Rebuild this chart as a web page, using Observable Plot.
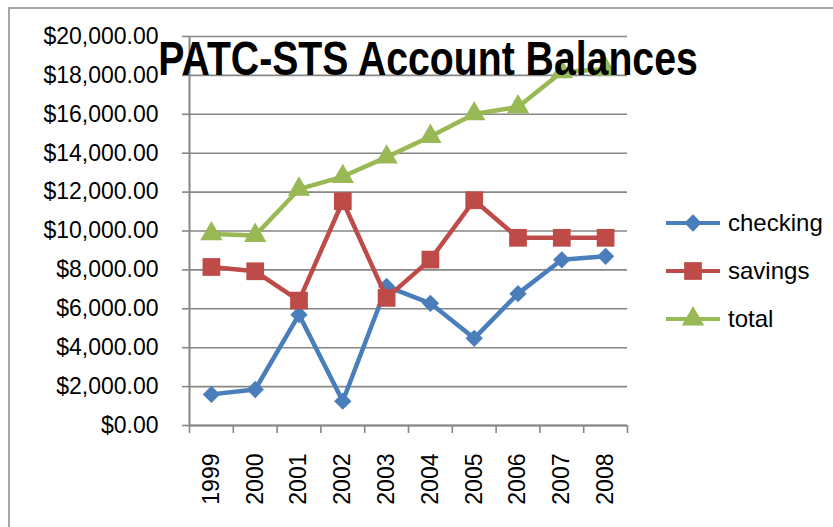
<!DOCTYPE html>
<html>
<head>
<meta charset="utf-8">
<script src="https://cdn.jsdelivr.net/npm/d3@7"></script>
<script src="https://cdn.jsdelivr.net/npm/@observablehq/plot@0.6"></script>
<style>
  html, body { margin: 0; padding: 0; background: #fff; }
  #wrap { position: relative; width: 833px; height: 527px; overflow: hidden; font-family: "Liberation Sans", Arial, sans-serif; }
  #frame { position: absolute; left: 8px; top: 7px; width: 900px; height: 600px; border-left: 2px solid #a6a6a6; border-top: 2px solid #a6a6a6; }
  #title { position: absolute; left: 428px; top: 34px; transform: translateX(-50%) scaleX(0.8); transform-origin: center; font-family: "Liberation Sans", Arial, sans-serif; font-weight: bold; font-size: 49px; line-height: 1; color: #000; white-space: nowrap; }
  #legend { position: absolute; left: 666px; top: 199px; font-size: 24px; color: #000; }
  .item { display: flex; align-items: center; height: 48px; }
  .item svg { margin-right: 8px; }
  #chart { position: absolute; left: 0; top: 0; }
</style>
</head>
<body>
<div id="wrap">
  <div id="frame"></div>
  <div id="chart"></div>
  <div id="title">PATC-STS Account Balances</div>
  <div id="legend"></div>
</div>
<script>
const years = [1999, 2000, 2001, 2002, 2003, 2004, 2005, 2006, 2007, 2008];
const checking = [1600, 1850, 5700, 1250, 7150, 6280, 4480, 6780, 8520, 8700];
const savings = [8150, 7930, 6420, 11530, 6560, 8530, 11580, 9650, 9650, 9650];
const total = [9850, 9770, 12150, 12800, 13800, 14860, 16020, 16380, 18180, 18320];
const seriesNames = ["checking", "savings", "total"];
const seriesColors = ["#4a7ebb", "#be4b48", "#98b954"];
const seriesSymbols = ["diamond2", "square", "triangle"];
const seriesR = [7.8, 10, 8.3];
const yTicks = d3.range(0, 20001, 2000);

const values = [checking, savings, total];
const data = [];
seriesNames.forEach((s, i) => years.forEach((y, j) => data.push({series: s, year: y, value: values[i][j]})));
const bounds = d3.range(years[0] - 0.5, years[years.length - 1] + 1, 1);

const grid = "#868686";
const marks = [
  Plot.gridY(yTicks, {stroke: grid, strokeOpacity: 1, strokeWidth: 1.6}),
  Plot.ruleX([bounds[0]], {stroke: grid, strokeWidth: 2}),
  Plot.ruleY([0], {stroke: grid, strokeWidth: 2}),
  Plot.axisY(yTicks, {label: null, tickSize: 7, tickPadding: 24, stroke: grid, strokeWidth: 1.6, fontSize: 23, fill: "#000",
    tickFormat: d => "$" + d3.format(",.2f")(d)}),
  Plot.axisX(bounds, {label: null, tickSize: 8, stroke: grid, strokeWidth: 1.6, tickFormat: () => ""}),
  Plot.axisX(years, {label: null, tickSize: 0, tickRotate: -90, tickPadding: 28, fontSize: 23, fill: "#000", tickFormat: d => String(d)})
];
seriesNames.forEach((s, i) => {
  const sub = data.filter(d => d.series === s);
  marks.push(Plot.line(sub, {x: "year", y: "value", stroke: seriesColors[i], strokeWidth: 4.5}));
  marks.push(Plot.dot(sub, {x: "year", y: "value", symbol: () => seriesSymbols[i], fill: seriesColors[i], r: seriesR[i], stroke: "none"}));
});

const chart = Plot.plot({
  width: 833, height: 527,
  marginLeft: 189, marginRight: 206, marginTop: 36, marginBottom: 102,
  style: {fontFamily: "'Liberation Sans', Arial, sans-serif", background: "transparent", overflow: "visible"},
  x: {type: "linear", domain: [bounds[0], bounds[bounds.length - 1]], axis: null, label: null},
  y: {domain: [0, 20000], axis: null, label: null},
  symbol: {type: "identity"},
  marks
});
document.getElementById("chart").appendChild(chart);

const legend = d3.select("#legend");
seriesNames.forEach((s, i) => {
  const item = legend.append("div").attr("class", "item");
  const svg = item.append("svg").attr("width", 54).attr("height", 26);
  svg.append("line").attr("x1", 0).attr("x2", 54).attr("y1", 13).attr("y2", 13).attr("stroke", seriesColors[i]).attr("stroke-width", 4);
  const sym = {diamond2: d3.symbolDiamond2, square: d3.symbolSquare, triangle: d3.symbolTriangle}[seriesSymbols[i]];
  svg.append("path").attr("transform", "translate(27,13)").attr("d", d3.symbol(sym, Math.PI * seriesR[i] * seriesR[i])()).attr("fill", seriesColors[i]);
  item.append("span").text(s);
});
</script>
</body>
</html>
